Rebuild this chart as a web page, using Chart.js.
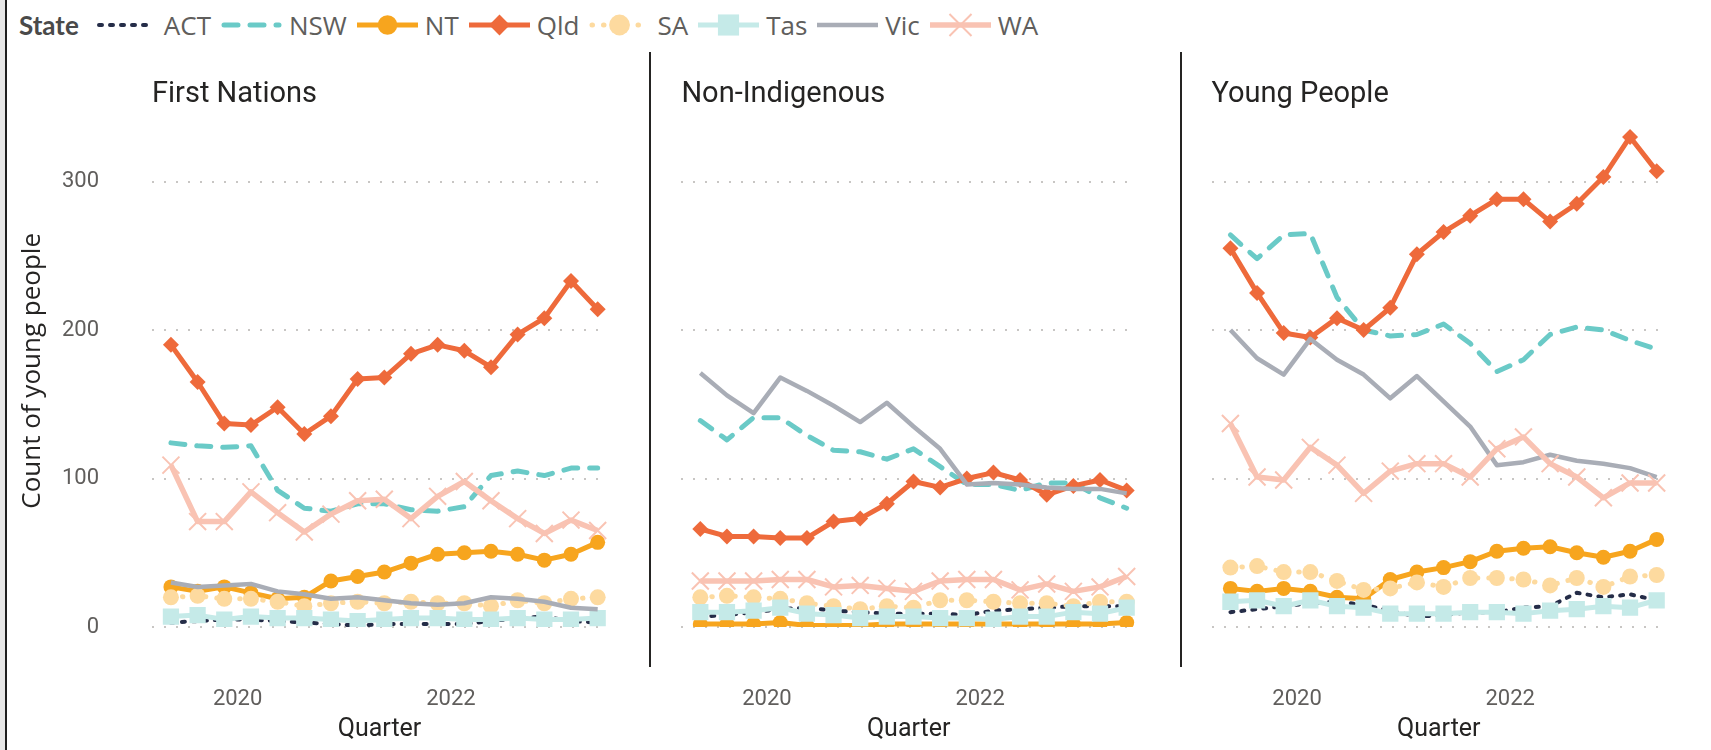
<!DOCTYPE html>
<html>
<head>
<meta charset="utf-8">
<title>Young people in detention by state</title>
<script src="https://cdn.jsdelivr.net/npm/chart.js@4.4.1/dist/chart.umd.min.js"></script>
<style>
  html, body { margin: 0; padding: 0; background: #fff; }
  body { width: 1711px; height: 750px; position: relative; overflow: hidden; font-family: "Open Sans", "Noto Sans", sans-serif; }
  #edge { position: absolute; left: 0; top: 0; width: 5px; height: 750px; background: #e6e6e6; border-right: 2px solid #1e1e1e; }
  .divider { position: absolute; top: 52px; height: 615px; width: 2px; background: #252423; }
  .panel { position: absolute; top: 0; }
  #legend { position: absolute; left: 19px; top: 7px; height: 36px; display: flex; align-items: center; font-size: 26px; color: #605E5C; white-space: nowrap; }
  #legend .head { font-family: Lato, "Open Sans", sans-serif; color: #4a4a4a; font-weight: 700; margin-right: 17px; }
  #legend canvas { margin-right: 7px; }
  #legend .name { margin-right: 10px; }
</style>
</head>
<body>
<div id="edge"></div>
<div id="legend"><span class="head">State</span></div>
<canvas class="panel" id="panel0"></canvas>
<canvas class="panel" id="panel1"></canvas>
<canvas class="panel" id="panel2"></canvas>
<div class="divider" style="left:649px"></div>
<div class="divider" style="left:1180px"></div>

<script>
// quarters (quarter ending), Jun 2019 to Jun 2023
const quarters = ['Jun 2019', 'Sep 2019', 'Dec 2019', 'Mar 2020', 'Jun 2020', 'Sep 2020', 'Dec 2020',
  'Mar 2021', 'Jun 2021', 'Sep 2021', 'Dec 2021', 'Mar 2022', 'Jun 2022', 'Sep 2022', 'Dec 2022',
  'Mar 2023', 'Jun 2023'];
const yearTicks = [2020, 2022];
const countTicks = [0, 100, 200, 300];
const states = ['ACT', 'NSW', 'NT', 'Qld', 'SA', 'Tas', 'Vic', 'WA'];
const panelTitles = ['First Nations', 'Non-Indigenous', 'Young People'];

// First Nations
const fnACT = [3, 4, 5, 5, 4, 3, 2, 1, 2, 2, 2, 2, 4, 6, 7, 4, 3];
const fnNSW = [124, 122, 121, 122, 92, 80, 78, 83, 83, 79, 78, 81, 102, 105, 102, 107, 107];
const fnNT  = [27, 24, 27, 23, 19, 20, 31, 34, 37, 43, 49, 50, 51, 49, 45, 49, 57];
const fnQld = [190, 165, 137, 136, 148, 130, 142, 167, 168, 184, 190, 186, 175, 197, 208, 233, 214];
const fnSA  = [20, 21, 19, 19, 17, 14, 16, 17, 16, 17, 16, 16, 14, 18, 16, 19, 20];
const fnTas = [7, 8, 5, 7, 6, 6, 5, 4, 5, 6, 6, 5, 5, 6, 5, 5, 6];
const fnVic = [30, 27, 28, 29, 24, 22, 19, 20, 18, 16, 15, 16, 20, 19, 17, 13, 12];
const fnWA  = [109, 71, 71, 91, 77, 64, 76, 85, 86, 73, 88, 98, 85, 73, 63, 72, 65];

// Non-Indigenous
const niACT = [7, 8, 10, 12, 13, 11, 10, 9, 9, 9, 8, 11, 12, 13, 14, 14, 14];
const niNSW = [139, 126, 141, 141, 129, 119, 118, 113, 120, 108, 96, 96, 92, 97, 97, 87, 80];
const niNT  = [2, 2, 2, 3, 1, 1, 1, 2, 2, 2, 2, 2, 2, 2, 2, 2, 3];
const niQld = [66, 61, 61, 60, 60, 71, 73, 83, 98, 94, 100, 104, 99, 89, 95, 99, 92];
const niSA  = [20, 21, 20, 19, 16, 14, 12, 14, 13, 18, 18, 17, 16, 16, 14, 17, 17];
const niTas = [10, 10, 11, 13, 9, 8, 6, 7, 7, 6, 6, 5, 7, 7, 10, 9, 13];
const niVic = [171, 156, 144, 168, 159, 149, 138, 151, 135, 120, 96, 97, 96, 94, 93, 93, 90];
const niWA  = [31, 31, 31, 32, 32, 27, 28, 26, 24, 31, 32, 32, 25, 29, 24, 27, 34];

// all young people
const ypACT = [10, 12, 14, 16, 17, 15, 11, 7, 8, 10, 10, 13, 14, 23, 20, 22, 18];
const ypNSW = [264, 248, 264, 265, 222, 200, 196, 197, 204, 191, 172, 180, 197, 202, 200, 193, 187];
const ypNT  = [26, 24, 26, 24, 20, 19, 32, 37, 40, 44, 51, 53, 54, 50, 47, 51, 59];
const ypQld = [255, 225, 198, 195, 208, 200, 215, 251, 266, 277, 288, 288, 273, 285, 303, 330, 307];
const ypSA  = [40, 41, 37, 37, 31, 25, 26, 30, 27, 33, 33, 32, 28, 33, 27, 34, 35];
const ypTas = [17, 18, 14, 18, 14, 13, 9, 9, 9, 10, 10, 9, 11, 12, 14, 13, 18];
const ypVic = [200, 181, 170, 194, 180, 170, 154, 169, 152, 135, 109, 111, 116, 112, 110, 107, 101];
const ypWA  = [137, 101, 99, 121, 109, 90, 105, 110, 110, 101, 120, 128, 110, 101, 87, 97, 97];

const panelValues = [
  [fnACT, fnNSW, fnNT, fnQld, fnSA, fnTas, fnVic, fnWA],
  [niACT, niNSW, niNT, niQld, niSA, niTas, niVic, niWA],
  [ypACT, ypNSW, ypNT, ypQld, ypSA, ypTas, ypVic, ypWA]
];

// line look per state, same order as states
const looks = [
  { color: '#252D48', width: 4, dash: [3, 8] },
  { color: '#6ACAC7', width: 5, dash: [14, 12] },
  { color: '#F7A51E', width: 5, point: 'circle', radius: 7.5 },
  { color: '#EE6A3B', width: 5, point: 'rectRot', radius: 8 },
  { color: '#FDDA9F', width: 5, dash: [0.5, 11], point: 'circle', radius: 8 },
  { color: '#C5EAE8', width: 5, point: 'rect', radius: 11.5 },
  { color: '#A9ADB6', width: 4.5 },
  { color: '#F9C3B3', width: 5.5, point: 'crossRot', radius: 12, pointLine: 2 }
];

const MONTH = { Mar: 3, Jun: 6, Sep: 9, Dec: 12 };
// place each quarter at its middle, as a decimal year
const quarterPos = quarters.map(q => {
  const [m, y] = q.split(' ');
  return Number(y) + (MONTH[m] - 1.5) / 12;
});

const fontTick = { family: 'Roboto', size: 22 };
const canvasLeft = [0, 651, 1182];
const axisWidth = [152, 30.4, 29.5];
const plotWidth = 457;
const rightPad = 12;

function buildDatasets(values) {
  return states.map((s, i) => {
    const lk = looks[i];
    return {
      label: s,
      data: values[i].map((v, k) => ({ x: quarterPos[k], y: v })),
      borderColor: lk.color,
      backgroundColor: lk.color,
      borderWidth: lk.width,
      borderDash: lk.dash || [],
      borderCapStyle: lk.dash ? 'round' : 'butt',
      borderJoinStyle: 'round',
      pointStyle: lk.point || 'circle',
      pointRadius: lk.point ? lk.radius : 0,
      pointBorderWidth: lk.pointLine || 0,
      pointBorderColor: lk.color,
      pointBackgroundColor: lk.color,
      tension: 0,
      order: states.length - i
    };
  });
}

function makePanel(p) {
  const canvas = document.getElementById('panel' + p);
  canvas.width = axisWidth[p] + plotWidth + rightPad;
  canvas.height = 750;
  canvas.style.left = canvasLeft[p] + 'px';
  const first = quarterPos[0], last = quarterPos[quarterPos.length - 1];
  const showY = p === 0;

  return new Chart(canvas.getContext('2d'), {
    type: 'line',
    data: { datasets: buildDatasets(panelValues[p]) },
    options: {
      responsive: false,
      animation: false,
      events: [],
      layout: { padding: { left: 0, right: rightPad, top: 0, bottom: 0 } },
      plugins: {
        legend: { display: false },
        tooltip: { enabled: false },
        title: {
          display: true,
          text: panelTitles[p],
          align: 'start',
          fullSize: false,
          color: '#252423',
          font: { family: 'Roboto', size: 29, weight: 400 },
          padding: { top: 77.6, bottom: 2.3 }
        }
      },
      scales: {
        x: {
          type: 'linear',
          min: first - 0.71 / 4,
          max: last + 0.35 / 4,
          grid: { display: false },
          border: { display: false },
          afterBuildTicks: s => { s.ticks = yearTicks.map(v => ({ value: v })); },
          afterFit: s => { s.height = 123; },
          ticks: {
            autoSkip: false,
            maxRotation: 0,
            padding: 51.5,
            color: '#605E5C',
            font: fontTick,
            callback: v => String(v)
          },
          title: {
            display: true,
            text: 'Quarter',
            color: '#252423',
            font: { family: 'Roboto', size: 25 },
            padding: { top: 0, bottom: 5 }
          }
        },
        y: {
          min: 0,
          max: 345,
          afterBuildTicks: s => { s.ticks = countTicks.map(v => ({ value: v })); },
          afterFit: s => { s.width = axisWidth[p]; },
          grid: { color: '#C8C6C4', lineWidth: 2, drawTicks: false },
          border: { display: false, dash: [2, 10] },
          ticks: {
            display: showY,
            padding: 53,
            color: '#605E5C',
            font: fontTick
          },
          title: {
            display: showY,
            text: 'Count of young people',
            color: '#252423',
            font: { family: 'Open Sans', size: 26 },
            padding: { top: 17, bottom: 0 }
          }
        }
      }
    }
  });
}

[0, 1, 2].forEach(makePanel);

// legend: line sample with its marker, then the state name
const legend = document.getElementById('legend');
states.forEach((s, i) => {
  const lk = looks[i];
  const c = document.createElement('canvas');
  c.width = 61; c.height = 30;
  const ctx = c.getContext('2d');
  ctx.strokeStyle = lk.color;
  ctx.fillStyle = lk.color;
  ctx.lineWidth = lk.width;
  ctx.lineCap = lk.dash ? 'round' : 'butt';
  ctx.setLineDash(lk.dash || []);
  ctx.beginPath();
  ctx.moveTo(lk.dash ? 3 : 0, 15);
  ctx.lineTo(lk.dash ? 58 : 61, 15);
  ctx.stroke();
  if (lk.point) {
    ctx.setLineDash([]);
    ctx.lineWidth = lk.pointLine || 0;
    Chart.helpers.drawPoint(ctx, {
      pointStyle: lk.point,
      radius: lk.radius * 1.3,
      rotation: 0,
      borderWidth: lk.pointLine || 0
    }, 30.5, 15);
  }
  legend.appendChild(c);
  const name = document.createElement('span');
  name.className = 'name';
  name.textContent = s;
  legend.appendChild(name);
});
</script>
</body>
</html>
